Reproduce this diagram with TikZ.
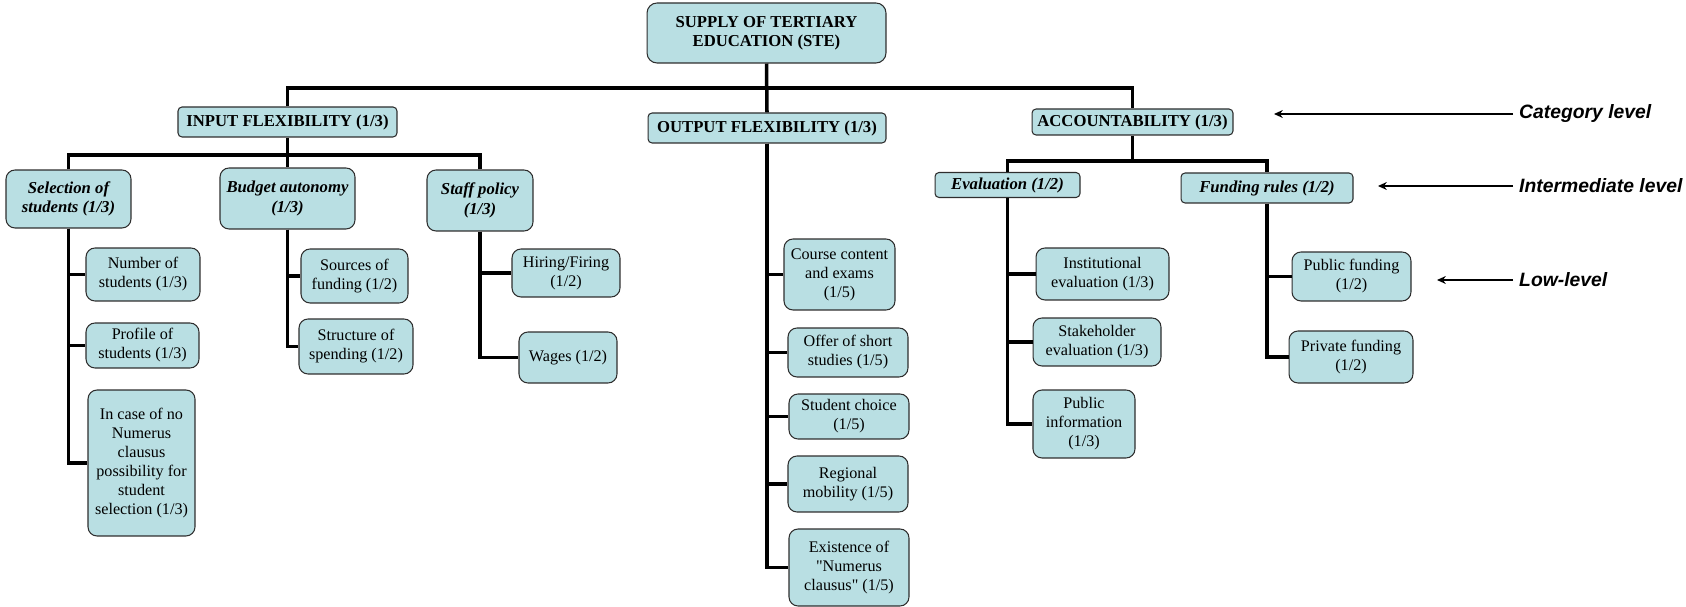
\documentclass[tikz,border=0pt]{standalone}
\usepackage{fontspec}
\setmainfont{Liberation Serif}[Ligatures=TeXOff]
\newfontfamily\levelfont{Liberation Sans}
\usetikzlibrary{arrows.meta}
\definecolor{stefill}{HTML}{B9DFE3}
\definecolor{stedraw}{HTML}{2E2E2E}

\begin{document}
\begin{tikzpicture}[x=0.02cm, y=-0.02cm,
  every node/.style={font=\fontsize{9.2}{10.8}\selectfont},
  box/.style={rectangle, draw=stedraw, line width=0.6pt, fill=stefill, align=center, inner sep=1.5pt},
  category/.style={box, rounded corners=0.08cm, font=\fontsize{9.5}{11}\selectfont\bfseries},
  subcat/.style={box, rounded corners=0.18cm, font=\fontsize{9.5}{11}\selectfont\bfseries\itshape},
  item/.style={box, rounded corners=0.18cm},
  tree/.style={line width=2pt},
  levelarrow/.style={-{Stealth[length=5pt,width=4.5pt]}, line width=0.7pt},
  levellabel/.style={font=\levelfont\fontsize{11}{13}\selectfont\bfseries\itshape, anchor=west},
]
\useasboundingbox (0,0) rectangle (1686,607);

% Top and category level
\node[category, rounded corners=0.2cm, minimum width=4.78cm, minimum height=1.2cm] (sup) at (766.5,33) {SUPPLY OF TERTIARY\\EDUCATION (STE)};
\node[category, minimum width=4.38cm, minimum height=0.6cm] (inp) at (287.5,122) {INPUT FLEXIBILITY (1/3)};
\node[category, minimum width=4.76cm, minimum height=0.6cm] (outp) at (767,128) {OUTPUT FLEXIBILITY (1/3)};
\node[category, minimum width=4.02cm, minimum height=0.52cm] (acc) at (1132.5,122) {ACCOUNTABILITY (1/3)};

% Intermediate level
\node[subcat, minimum width=2.5cm, minimum height=1.16cm] (sel) at (68.5,199) {Selection of\\students (1/3)};
\node[subcat, minimum width=2.7cm, minimum height=1.22cm] (bud) at (287.5,198.5) {Budget autonomy\\(1/3)};
\node[subcat, minimum width=2.12cm, minimum height=1.22cm] (stf) at (480,200.5) {Staff policy\\(1/3)};
\node[subcat, rounded corners=0.08cm, minimum width=2.9cm, minimum height=0.5cm] (eva) at (1007.5,185) {Evaluation (1/2)};
\node[subcat, rounded corners=0.08cm, minimum width=3.44cm, minimum height=0.6cm] (fun) at (1267,188) {Funding rules (1/2)};

% Low level: input flexibility
\node[item, minimum width=2.28cm, minimum height=1.06cm] (nos) at (143,274.5) {Number of\\students (1/3)};
\node[item, minimum width=2.26cm, minimum height=0.9cm] (pos) at (142.5,345.5) {Profile of\\students (1/3)};
\node[item, minimum width=2.14cm, minimum height=2.92cm] (inc) at (141.5,463) {In case of no\\Numerus\\clausus\\possibility for\\student\\selection (1/3)};
\node[item, minimum width=2.14cm, minimum height=1.08cm] (sof) at (354.5,276) {Sources of\\funding (1/2)};
\node[item, minimum width=2.28cm, minimum height=1.1cm] (sos) at (356,346.5) {Structure of\\spending (1/2)};
\node[item, minimum width=2.16cm, minimum height=0.96cm] (hir) at (566,273) {Hiring/Firing\\(1/2)};
\node[item, minimum width=1.96cm, minimum height=1.02cm] (wag) at (568,357.5) {Wages (1/2)};

% Low level: output flexibility
\node[item, minimum width=2.22cm, minimum height=1.42cm] (cce) at (839.5,274.5) {Course content\\and exams\\(1/5)};
\node[item, minimum width=2.4cm, minimum height=0.98cm] (oss) at (848,352.5) {Offer of short\\studies (1/5)};
\node[item, minimum width=2.4cm, minimum height=0.9cm] (stc) at (849,416.5) {Student choice\\(1/5)};
\node[item, minimum width=2.4cm, minimum height=1.12cm] (reg) at (848,484) {Regional\\mobility (1/5)};
\node[item, minimum width=2.4cm, minimum height=1.54cm] (exi) at (849,567.5) {Existence of\\"Numerus\\clausus" (1/5)};

% Low level: accountability
\node[item, minimum width=2.66cm, minimum height=1.04cm] (ins) at (1102.5,274) {Institutional\\evaluation (1/3)};
\node[item, minimum width=2.56cm, minimum height=0.96cm] (stk) at (1097,342) {Stakeholder\\evaluation (1/3)};
\node[item, minimum width=2.04cm, minimum height=1.36cm] (pub) at (1084,424) {Public\\information\\(1/3)};
\node[item, minimum width=2.38cm, minimum height=0.98cm] (puf) at (1351.5,276.5) {Public funding\\(1/2)};
\node[item, minimum width=2.48cm, minimum height=1.04cm] (prf) at (1351,357) {Private funding\\(1/2)};

% Tree connectors
\coordinate (topbus) at (766.5,88);
\coordinate (inpbus) at (287.5,155);
\coordinate (accbus) at (1132.5,161);
\draw[tree] (inp.north) |- (topbus) -| (acc.north);
\draw[tree] (sup.south) -- (outp.north);
\draw[tree] (sel.north) |- (inpbus) -| (stf.north);
\draw[tree] (inp.south) -- (bud.north);
\draw[tree] (acc.south) -- (accbus);
\draw[tree] (eva.north) |- (accbus) -| (fun.north);

\draw[tree] (sel.south) |- (nos.west);
\draw[tree] (sel.south) |- (pos.west);
\draw[tree] (sel.south) |- (inc.west);
\draw[tree] (bud.south) |- (sof.west);
\draw[tree] (bud.south) |- (sos.west);
\draw[tree] (stf.south) |- (hir.west);
\draw[tree] (stf.south) |- (wag.west);
\draw[tree] (outp.south) |- (cce.west);
\draw[tree] (outp.south) |- (oss.west);
\draw[tree] (outp.south) |- (stc.west);
\draw[tree] (outp.south) |- (reg.west);
\draw[tree] (outp.south) |- (exi.west);
\draw[tree] (eva.south) |- (ins.west);
\draw[tree] (eva.south) |- (stk.west);
\draw[tree] (eva.south) |- (pub.west);
\draw[tree] (fun.south) |- (puf.west);
\draw[tree] (fun.south) |- (prf.west);

% Level labels
\node[levellabel] (catlbl) at (1513,114) {Category level};
\node[levellabel] (intlbl) at (1513,186) {Intermediate level};
\node[levellabel] (lowlbl) at (1513,280) {Low-level};
\coordinate (catend) at (1274,114);
\coordinate (intend) at (1378,186);
\coordinate (lowend) at (1437,280);
\draw[levelarrow] (catlbl.west) -- (catend);
\draw[levelarrow] (intlbl.west) -- (intend);
\draw[levelarrow] (lowlbl.west) -- (lowend);

\end{tikzpicture}
\end{document}
